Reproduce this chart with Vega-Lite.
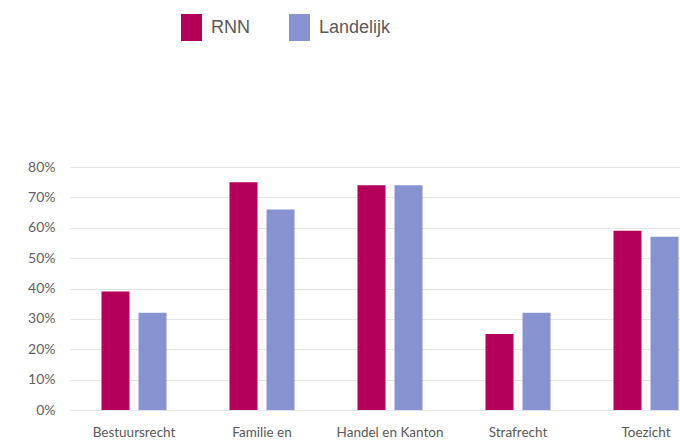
{
  "$schema": "https://vega.github.io/schema/vega-lite/v6.json",
  "width": 610,
  "height": 243,
  "autosize": {"type": "none"},
  "padding": {"left": 70, "top": 167, "right": 0, "bottom": 32},
  "background": "white",
  "data": {
    "values": [
      {"categorie": "Bestuursrecht", "reeks": "RNN", "waarde": 0.39},
      {"categorie": "Bestuursrecht", "reeks": "Landelijk", "waarde": 0.32},
      {"categorie": "Familie en", "reeks": "RNN", "waarde": 0.75},
      {"categorie": "Familie en", "reeks": "Landelijk", "waarde": 0.66},
      {"categorie": "Handel en Kanton", "reeks": "RNN", "waarde": 0.74},
      {"categorie": "Handel en Kanton", "reeks": "Landelijk", "waarde": 0.74},
      {"categorie": "Strafrecht", "reeks": "RNN", "waarde": 0.25},
      {"categorie": "Strafrecht", "reeks": "Landelijk", "waarde": 0.32},
      {"categorie": "Toezicht", "reeks": "RNN", "waarde": 0.59},
      {"categorie": "Toezicht", "reeks": "Landelijk", "waarde": 0.57}
    ]
  },
  "mark": {"type": "bar"},
  "encoding": {
    "x": {
      "field": "categorie",
      "type": "nominal",
      "sort": null,
      "scale": {"paddingInner": 0.4688, "paddingOuter": 0.1172, "align": 1},
      "axis": {
        "title": null,
        "labelAngle": 0,
        "domain": false,
        "ticks": false,
        "labelFont": "Lato",
        "labelFontSize": 13.5,
        "labelColor": "#595959",
        "labelPadding": 15
      }
    },
    "xOffset": {
      "field": "reeks",
      "type": "nominal",
      "sort": ["RNN", "Landelijk"],
      "scale": {"paddingInner": 0.243, "paddingOuter": 0.04}
    },
    "y": {
      "field": "waarde",
      "type": "quantitative",
      "scale": {"domain": [0, 0.8], "nice": false},
      "axis": {
        "title": null,
        "format": ".0%",
        "values": [0, 0.1, 0.2, 0.3, 0.4, 0.5, 0.6, 0.7, 0.8],
        "domain": false,
        "ticks": false,
        "grid": true,
        "gridColor": "#e3e3e3",
        "gridWidth": 1,
        "labelFont": "Lato",
        "labelFontSize": 14,
        "labelColor": "#5f5f5f",
        "labelPadding": 15
      }
    },
    "color": {
      "field": "reeks",
      "type": "nominal",
      "sort": ["RNN", "Landelijk"],
      "scale": {"domain": ["RNN", "Landelijk"], "range": ["#B4005A", "#8793D0"]},
      "legend": {
        "title": null,
        "orient": "none",
        "direction": "horizontal",
        "legendX": 108,
        "legendY": -153,
        "symbolType": "M-0.78,-1H0.78V1H-0.78Z",
        "symbolSize": 729,
        "symbolStrokeWidth": 0,
        "symbolOpacity": 1,
        "labelFont": "Liberation Sans",
        "labelFontSize": 18,
        "labelColor": "#595959",
        "labelOffset": 6,
        "columnPadding": 36
      }
    }
  },
  "config": {
    "view": {"stroke": null}
  }
}
